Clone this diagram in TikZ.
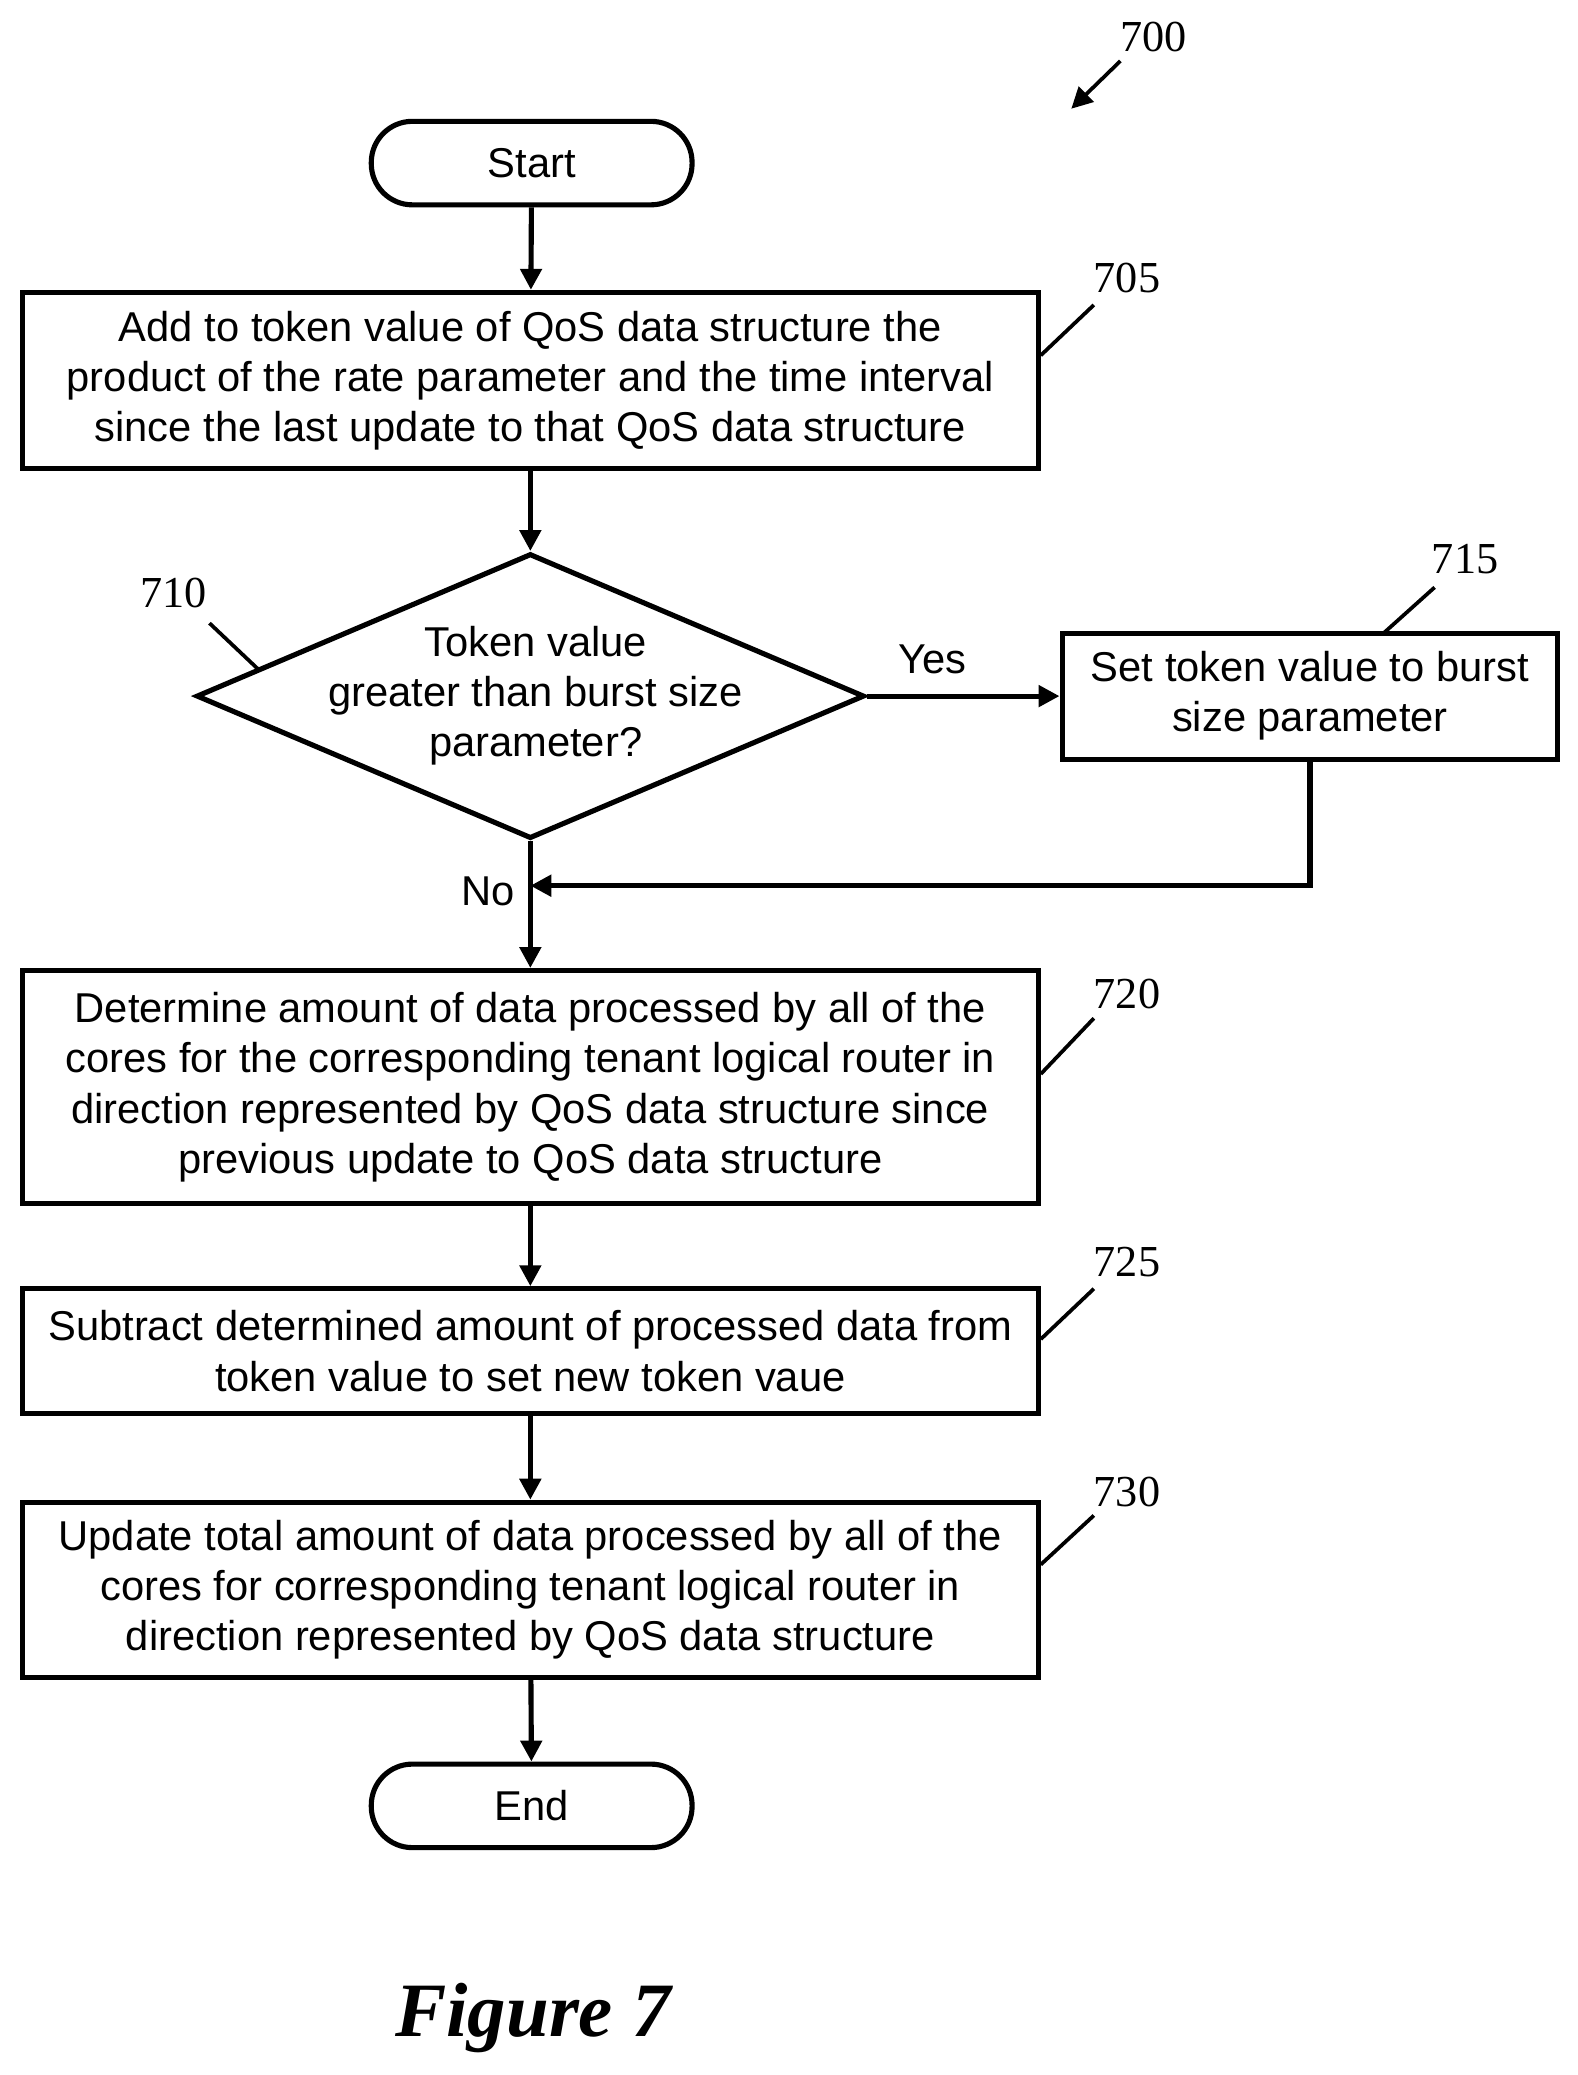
\documentclass[tikz,border=0pt]{standalone}
\usepackage{fontspec}
\setmainfont{Liberation Sans}
\newfontfamily\numfont{Liberation Serif}
\usetikzlibrary{shapes.geometric}
\usetikzlibrary{arrows.meta}

\begin{document}
\begin{tikzpicture}[x=0.02cm,y=-0.02cm,line width=2.2pt,
  box/.style={rectangle,draw,align=center,font=\fontsize{17.9}{21.5}\selectfont},
  term/.style={rectangle,rounded corners=0.62cm,draw,minimum width=4.84cm,minimum height=1.26cm,font=\fontsize{17.9}{21.5}\selectfont},
  ref/.style={font=\numfont\fontsize{19}{22}\selectfont},
  flow/.style={-{Triangle[length=9pt,width=9pt]}}]
\useasboundingbox (0,0) rectangle (1190,1565);

% terminals
\node[term] (start) at (401,123) {Start};
\node[term] (end) at (401,1362) {End};

% steps
\node[box,minimum width=15.32cm,minimum height=2.66cm] (s705) at (400,287) {Add to token value of QoS data structure the\\product of the rate parameter and the time interval\\since the last update to that QoS data structure};
\node[diamond,draw,inner sep=0pt,minimum width=10.08cm,minimum height=4.3cm] (s710) at (400,525) {};
\node[align=center,font=\fontsize{17.9}{21.5}\selectfont] at (404,525) {Token value\\greater than burst size\\parameter?};
\node[box,minimum width=7.48cm,minimum height=1.9cm] (s715) at (988,525) {Set token value to burst\\size parameter};
\node[box,minimum width=15.32cm,minimum height=3.52cm] (s720) at (400,820) {Determine amount of data processed by all of the\\cores for the corresponding tenant logical router in\\direction represented by QoS data structure since\\previous update to QoS data structure};
\node[box,minimum width=15.32cm,minimum height=1.88cm] (s725) at (400,1019) {Subtract determined amount of processed data from\\token value to set new token vaue};
\node[box,minimum width=15.32cm,minimum height=2.64cm] (s730) at (400,1199) {Update total amount of data processed by all of the\\cores for corresponding tenant logical router in\\direction represented by QoS data structure};

% connectors
\coordinate (merge) at (400,668);
\draw[flow] (start) -- (s705);
\draw[flow] (s705) -- (s710);
\draw[flow] (s710) -- node[above,pos=0.34,font=\fontsize{17.9}{21.5}\selectfont,yshift=5pt]{Yes} (s715);
\draw[flow] (s715.south) |- (merge);
\draw[flow] (s710) -- (s720);
\node[font=\fontsize{17.9}{21.5}\selectfont] (no) at (368,672) {No};
\draw[flow] (s720) -- (s725);
\draw[flow] (s725) -- (s730);
\draw[flow] (s730) -- (end);

% reference numerals
\node[ref] (r700) at (870,28) {700};
\coordinate (a700) at (808,82);
\draw[flow,line width=1.6pt] (845,46) -- (a700);
\node[ref] (r705) at (850,210) {705};
\draw[line width=1.6pt] (825,230) -- (785,268);
\node[ref] (r710) at (131,447) {710};
\draw[line width=1.6pt] (158,470) -- (195,505);
\node[ref] (r715) at (1105,422) {715};
\draw[line width=1.6pt] (1082,443) -- (1043,478);
\node[ref] (r720) at (850,750) {720};
\draw[line width=1.6pt] (825,768) -- (785,810);
\node[ref] (r725) at (850,952) {725};
\draw[line width=1.6pt] (825,972) -- (785,1010);
\node[ref] (r730) at (850,1125) {730};
\draw[line width=1.6pt] (825,1143) -- (785,1180);

\node[font=\numfont\fontsize{33}{38}\selectfont\bfseries\itshape] (fig) at (402,1522) {Figure 7};
\end{tikzpicture}
\end{document}
